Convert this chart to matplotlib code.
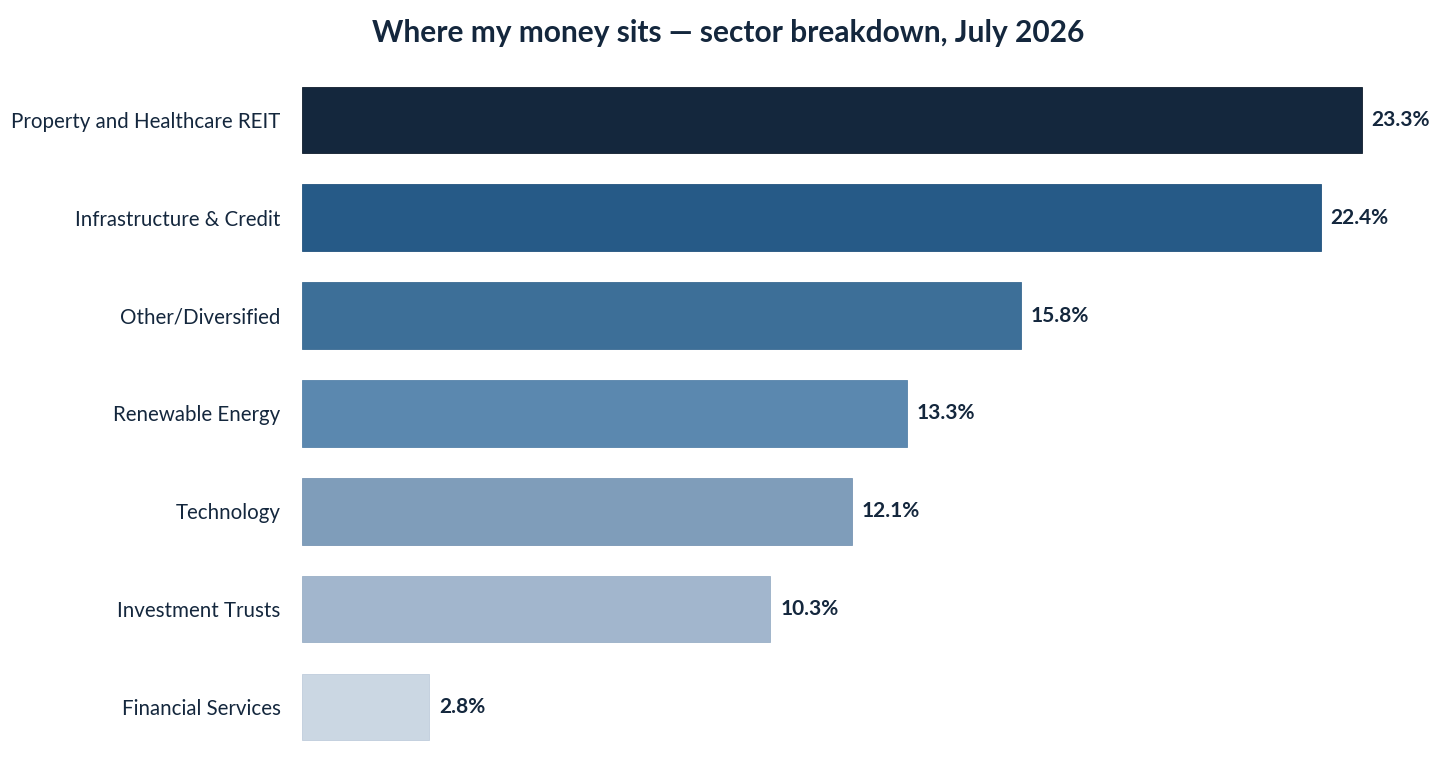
import matplotlib.pyplot as plt

# dane
sectors = ['Property and Healthcare REIT', 'Infrastructure & Credit', 'Other/Diversified',
           'Renewable Energy', 'Technology', 'Investment Trusts', 'Financial Services']
shares = [23.3, 22.4, 15.8, 13.3, 12.1, 10.3, 2.8]
colors = ['#14273D', '#265A87', '#3D6F98', '#5B88AF', '#7F9DBA', '#A2B6CD', '#CBD7E3']
edges = ['#0E1C2C', '#22537E', '#3A6A92', '#5683AA', '#7896B4', '#9AAFC7', '#BFCDDC']

plt.rcParams['font.family'] = ['Lato', 'DejaVu Sans']
navy = '#14273D'

fig = plt.figure(figsize=(14.56, 7.74), dpi=100)
ax = fig.add_axes([0.2074, 0.0233, 0.781, 0.885])

y = list(range(len(sectors)))
ax.barh(y, shares, height=0.68, color=colors, edgecolor=edges, linewidth=0.6)

for yi, v in zip(y, shares):
    ax.annotate(f'{v:.1f}%', (v, yi), xytext=(7, 0), textcoords='offset points',
                va='center', ha='left', fontsize=15, fontweight='bold', color=navy)

ax.set_xlim(0, 25)
ax.set_ylim(len(sectors) - 0.5, -0.5)
ax.set_yticks(y)
ax.set_yticklabels(sectors, fontsize=14.8, color=navy)
ax.tick_params(axis='y', length=0, pad=15.5)
ax.set_xticks([])
for s in ax.spines.values():
    s.set_visible(False)

fig.text(0.5, 0.957, 'Where my money sits — sector breakdown, July 2026',
         ha='center', va='center', fontsize=21.5, fontweight='bold', color=navy)

fig.savefig('out.png', dpi=100)
